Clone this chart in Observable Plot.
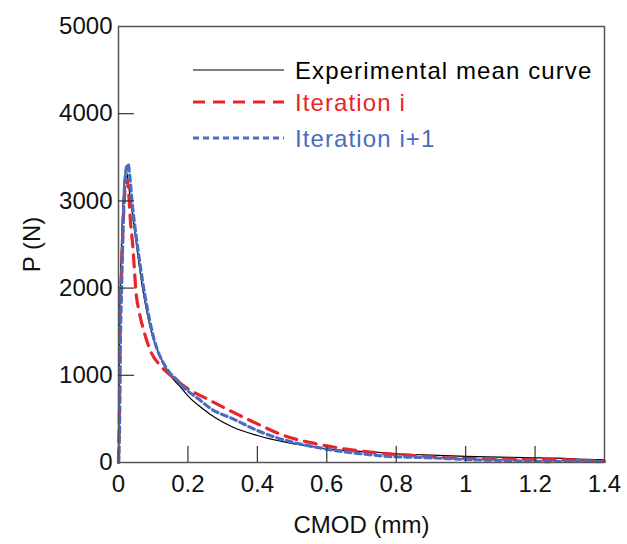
<!DOCTYPE html>
<html>
<head>
<meta charset="utf-8">
<script src="https://cdn.jsdelivr.net/npm/d3@7"></script>
<script src="https://cdn.jsdelivr.net/npm/@observablehq/plot@0.6"></script>
<style>
  html, body { margin: 0; padding: 0; background: #fff; }
  #chart svg { display: block; }
</style>
</head>
<body>
<div id="chart"></div>
<script>
// ---- Data ----
const seriesNames = ["Experimental mean curve", "Iteration i", "Iteration i+1"];
const seriesColors = ["#000000", "#e8262a", "#4a6cc0"];

const expX = [0, 0.002, 0.004, 0.007, 0.010, 0.014, 0.018, 0.022, 0.026, 0.030, 0.040, 0.050, 0.060, 0.070, 0.080, 0.100, 0.120, 0.140, 0.160, 0.180, 0.200, 0.240, 0.280, 0.330, 0.400, 0.480, 0.570, 0.610, 0.670, 0.750, 0.800, 0.850, 0.900, 1.000, 1.100, 1.170, 1.250, 1.300, 1.350, 1.400];
const expP = [0, 800, 1800, 2300, 2700, 3050, 3280, 3340, 3280, 3150, 2850, 2550, 2250, 1980, 1760, 1420, 1220, 1055, 945, 860, 765, 625, 510, 405, 310, 233, 175, 150, 135, 115, 100, 92, 85, 70, 62, 55, 50, 45, 35, 30];

const iterIX = [0, 0.003, 0.005, 0.008, 0.012, 0.016, 0.020, 0.024, 0.028, 0.035, 0.041, 0.046, 0.050, 0.059, 0.073, 0.092, 0.121, 0.150, 0.200, 0.255, 0.330, 0.400, 0.476, 0.570, 0.650, 0.760, 0.850, 0.950, 1.050, 1.150, 1.300, 1.400];
const iterIP = [0, 800, 1900, 2100, 2600, 2950, 3200, 3250, 3150, 2740, 2490, 2200, 1970, 1740, 1510, 1280, 1110, 1000, 845, 730, 577, 443, 310, 214, 157, 105, 80, 54, 42, 38, 31, 15];

const iterI1X = [0, 0.003, 0.006, 0.009, 0.012, 0.015, 0.019, 0.024, 0.028, 0.032, 0.040, 0.050, 0.060, 0.070, 0.080, 0.100, 0.140, 0.170, 0.200, 0.230, 0.265, 0.330, 0.410, 0.480, 0.570, 0.630, 0.700, 0.780, 0.850, 0.950, 1.020, 1.100, 1.230, 1.300, 1.400];
const iterI1P = [0, 400, 1500, 2000, 2500, 2950, 3250, 3400, 3420, 3300, 2950, 2620, 2330, 2060, 1830, 1450, 1070, 940, 820, 730, 620, 500, 350, 255, 175, 134, 100, 69, 60, 45, 31, 25, 11, 12, 11];

const xTicks = [0, 0.2, 0.4, 0.6, 0.8, 1, 1.2, 1.4];
const yTicks = [0, 1000, 2000, 3000, 4000, 5000];
const xLabel = "CMOD (mm)";
const yLabel = "P (N)";

// ---- Build tables ----
const toRows = (xs, ps) => xs.map((x, i) => ({x, p: ps[i]}));
const expRows = toRows(expX, expP);
const iterIRows = toRows(iterIX, iterIP);
const iterI1Rows = toRows(iterI1X, iterI1P);

const W = 627, H = 544;
const mL = 118, mR = 23, mT = 26, mB = 82;
const plotW = W - mL - mR, plotH = H - mT - mB;
const tickLen = 16;
const font = "'Liberation Sans', Arial, sans-serif";

const chart = Plot.plot({
  width: W,
  height: H,
  marginLeft: mL,
  marginRight: mR,
  marginTop: mT,
  marginBottom: mB,
  style: {fontFamily: font, fontSize: "24px", color: "#111", background: "#fff", overflow: "visible"},
  x: {domain: [0, 1.4]},
  y: {domain: [0, 5000]},
  marks: [
    Plot.line(expRows, {x: "x", y: "p", stroke: seriesColors[0], strokeWidth: 1.2, curve: "monotone-x"}),
    Plot.line(iterIRows, {x: "x", y: "p", stroke: seriesColors[1], strokeWidth: 3.2, strokeDasharray: "12,8", curve: "monotone-x"}),
    Plot.line(iterI1Rows, {x: "x", y: "p", stroke: seriesColors[2], strokeWidth: 3.2, strokeDasharray: "6,4", curve: "monotone-x"}),
    Plot.frame({stroke: "#555", strokeWidth: 1.5}),
    Plot.tickX(xTicks.slice(1, -1), {x: d => d, insetTop: plotH - tickLen, stroke: "#333", strokeWidth: 1.2}),
    Plot.tickY(yTicks.slice(1, -1), {y: d => d, insetRight: plotW - tickLen, stroke: "#333", strokeWidth: 1.2}),
    Plot.axisX({ticks: xTicks, tickSize: 0, tickPadding: 12, tickFormat: d => String(d), fontSize: 24,
      label: xLabel, labelAnchor: "center", labelArrow: "none", labelOffset: 70}),
    Plot.axisY({ticks: yTicks, tickSize: 0, tickPadding: 6, tickFormat: d => String(d), fontSize: 24,
      label: yLabel, labelAnchor: "center", labelArrow: "none", labelOffset: 96})
  ]
});

// ---- Legend (inside plot, top right) ----
const svg = d3.select(chart);
const lg = svg.append("g")
  .attr("font-family", font)
  .attr("font-size", 24)
  .attr("text-anchor", "start");
const legY = [70, 102, 138];
const dashes = [null, "12,8", "6,4"];
const widths = [1.2, 3.2, 3.2];
seriesNames.forEach((name, i) => {
  lg.append("line")
    .attr("x1", 193).attr("x2", 284)
    .attr("y1", legY[i]).attr("y2", legY[i])
    .attr("stroke", seriesColors[i])
    .attr("stroke-width", widths[i])
    .attr("stroke-dasharray", dashes[i]);
  lg.append("text")
    .attr("x", 295).attr("y", legY[i] + 8.5)
    .attr("text-anchor", "start")
    .attr("fill", seriesColors[i])
    .attr("letter-spacing", "1.1px")
    .text(name);
});

document.getElementById("chart").appendChild(chart);
</script>
</body>
</html>
